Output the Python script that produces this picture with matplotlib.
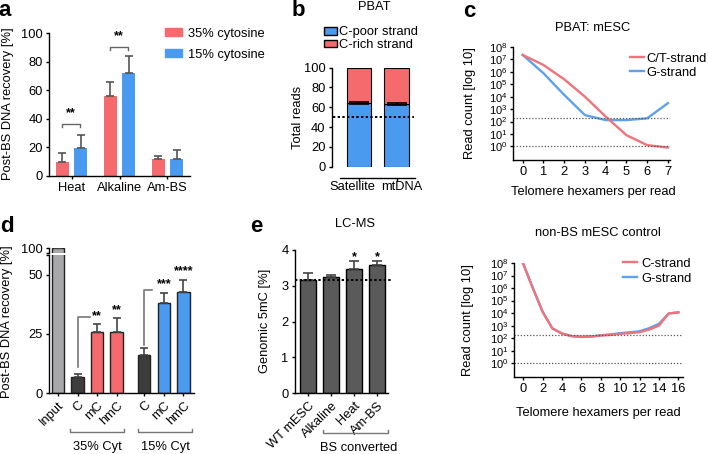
import numpy as np
import matplotlib
matplotlib.use('Agg')
import matplotlib.pyplot as plt
import matplotlib.transforms as mtransforms
from matplotlib.patches import Patch
from matplotlib.ticker import NullLocator

plt.rcParams['font.family'] = ['Liberation Sans', 'DejaVu Sans']
plt.rcParams['font.size'] = 9.3
plt.rcParams['axes.linewidth'] = 1.0
plt.rcParams['xtick.major.size'] = 2.5
plt.rcParams['ytick.major.size'] = 2.5
plt.rcParams['xtick.major.width'] = 1.0
plt.rcParams['ytick.major.width'] = 1.0
plt.rcParams['xtick.major.pad'] = 2
plt.rcParams['ytick.major.pad'] = 2
plt.rcParams['mathtext.default'] = 'regular'

RED = '#F56A6D'
BLUE = '#4A9AF0'

# %% Data
# a: post-BS recovery by conversion method
a_methods = ['Heat', 'Alkaline', 'Am-BS']
a_35 = [9.5, 56, 12]
a_35_err = [6.5, 10, 2]
a_15 = [19.5, 72, 12]
a_15_err = [9.5, 12, 6]

# b: PBAT strand fractions
b_samples = ['Satellite', 'mtDNA']
b_cpoor = [64, 63]
b_cpoor_err = [1.0, 1.0]

# c: telomere hexamer read counts, PBAT
c_hex = np.arange(8)
c_ct = [2.3e7, 3.6e6, 2.5e5, 1e4, 2.5e2, 8, 1.25, 0.8]
c_g = [2.3e7, 7.8e5, 1.4e4, 3.3e2, 1.3e2, 1.3e2, 1.8e2, 3e3]
c_noise = [180, 1]

# c (lower): non-BS control
cn_hex = np.arange(17)
cn_c = [8.3e7, 9.3e5, 1.26e4, 600, 234, 145, 126, 135, 162, 182, 224, 251,
        302, 490, 1000, 9300, 11200]
cn_g = [8.3e7, 9.3e5, 1.26e4, 600, 234, 145, 126, 135, 170, 200, 250, 295,
        355, 630, 1400, 9300, 11700]

# d: recovery by cytosine modification
d_labels = ['Input', 'C', 'mC', 'hmC', 'C', 'mC', 'hmC']
d_vals = [100, 7.0, 26.0, 26.0, 16.2, 37.9, 42.6]
d_err = [0, 1.0, 3.1, 5.6, 2.8, 4.3, 5.2]
d_stars = ['', '', '**', '**', '', '***', '****']

# e: LC-MS genomic 5mC
e_labels = ['WT mESC', 'Alkaline', 'Heat', 'Am-BS']
e_vals = [3.15, 3.25, 3.47, 3.58]
e_err = [0.2, 0.06, 0.22, 0.1]
e_stars = ['', '', '*', '*']

# %% Helpers
W, H = 708, 454
fig = plt.figure(figsize=(W / 100, H / 100), dpi=100)


def px_axes(left, top, right, bottom):
    ax = fig.add_axes([left / W, 1 - bottom / H, (right - left) / W, (bottom - top) / H])
    ax.spines['top'].set_visible(False)
    ax.spines['right'].set_visible(False)
    return ax


def ftext(x, y, s, **kw):
    kw.setdefault('ha', 'center')
    kw.setdefault('va', 'center')
    fig.text(x / W, 1 - y / H, s, **kw)


def fpt(x, y):
    return (x / W, 1 - y / H)


# %% Panel a
axa = px_axes(49, 33, 190, 176)
xa = np.arange(len(a_methods))
ekw = dict(ecolor='#555555', capsize=3, elinewidth=1.2, capthick=1.2)
axa.bar(xa - 0.19, a_35, 0.27, color=RED, yerr=[np.zeros(3), a_35_err], error_kw=ekw)
axa.bar(xa + 0.19, a_15, 0.27, color=BLUE, yerr=[np.zeros(3), a_15_err], error_kw=ekw)
axa.set_xlim(-0.47, 2.47)
axa.set_ylim(0, 100)
axa.set_yticks(range(0, 101, 20))
axa.set_xticks(xa, a_methods)
for xc, yb, ys in [(0, 36.2, 43.8), (1, 90.4, 97.9)]:
    axa.plot([xc - 0.2, xc - 0.2, xc + 0.17, xc + 0.17], [yb - 2.2, yb, yb, yb - 2.2],
             color='#666666', lw=1, clip_on=False)
    axa.text(xc - 0.01, ys, '**', ha='center', va='center', fontsize=9, fontweight='bold')
axa.legend(handles=[Patch(color=RED), Patch(color=BLUE)],
           labels=['35% cytosine', '15% cytosine'], loc='upper left',
           bbox_to_anchor=fpt(165, 27.5), bbox_transform=fig.transFigure,
           frameon=False, borderpad=0, borderaxespad=0, handlelength=1.3,
           handleheight=0.67, handletextpad=0.47, labelspacing=0.7)
ftext(8, 104, 'Post-BS DNA recovery [%]', rotation=90)
ftext(5, 11, 'a', fontsize=16, fontweight='bold')

# %% Panel b
axb = px_axes(340, 67.5, 415, 166.7)
xb = np.arange(len(b_samples))
b_crich = [100 - v for v in b_cpoor]
axb.bar(xb, b_cpoor, 0.65, color=BLUE, edgecolor='black', lw=0.8)
axb.bar(xb, b_crich, 0.65, bottom=b_cpoor, color=RED, edgecolor='black', lw=0.8)
axb.errorbar(xb, b_cpoor, yerr=b_cpoor_err, fmt='none', ecolor='black',
             capsize=7, elinewidth=1.2, capthick=1.2)
axb.plot([-0.69, 1.46], [50, 50], ls=(0, (1.2, 1.2)), color='black', lw=1.4, clip_on=False)
axb.set_xlim(-0.51, 1.49)
axb.set_ylim(0, 100)
axb.set_yticks(range(0, 101, 20))
# tick marks at bar centres, labels nudged apart as in the original
axb.set_xticks(xb, ['', ''])
axb.set_xticks(xb + np.array([-0.19, 0.13]), b_samples, minor=True)
axb.tick_params(axis='x', which='minor', length=0, pad=2.2)
axb.spines['left'].set_position(('outward', 6))
axb.spines['bottom'].set_position(('outward', 8.4))
axb.legend(handles=[Patch(facecolor=BLUE, edgecolor='black'), Patch(facecolor=RED, edgecolor='black')],
           labels=['C-poor strand', 'C-rich strand'], loc='upper left',
           bbox_to_anchor=fpt(324, 26.5), bbox_transform=fig.transFigure,
           frameon=False, borderpad=0, borderaxespad=0, handlelength=1.0,
           handleheight=0.55, handletextpad=0.18, labelspacing=0.05)
ftext(298, 117, 'Total reads', rotation=90)
ftext(374, 7.5, 'PBAT')
ftext(298, 10, 'b', fontsize=16, fontweight='bold')


# %% Panel c
def log_axes(ax, xs, red, blue, red_lab, blue_lab):
    ax.plot(xs, blue, color='#5FA0EC', lw=1.7, label=blue_lab)
    ax.plot(xs, red, color='#F0737A', lw=1.7, label=red_lab)
    ax.set_yscale('log')
    ax.set_ylim(10 ** -1.1, 1e8)
    ax.set_yticks([10.0 ** k for k in range(9)])
    ax.yaxis.set_minor_locator(NullLocator())
    ax.tick_params(axis='y', labelsize=8.0, pad=1.5)
    for v in c_noise:
        ax.axhline(v, ls=(0, (1, 1.5)), color='#555555', lw=0.9)


axc = px_axes(512.7, 47, 670, 160)
log_axes(axc, c_hex, c_ct, c_g, 'C/T-strand', 'G-strand')
axc.set_xlim(-0.48, 7.1)
axc.set_xticks(c_hex)
h, l = axc.get_legend_handles_labels()
axc.legend(h[::-1], l[::-1], loc='upper left', bbox_to_anchor=fpt(630, 52.5),
           bbox_transform=fig.transFigure, frameon=False, borderpad=0,
           borderaxespad=0, handlelength=1.08, handletextpad=0.2, labelspacing=0.15)
ftext(470, 103, 'Read count [log 10]', rotation=90)
ftext(593, 192, 'Telomere hexamers per read')
ftext(593, 28, 'PBAT: mESC')
ftext(469, 11.5, 'c', fontsize=16, fontweight='bold')

axn = px_axes(514, 263, 682.7, 377)
log_axes(axn, cn_hex, cn_c, cn_g, 'C-strand', 'G-strand')
axn.set_xlim(-0.96, 16.45)
axn.set_xticks(range(0, 17, 2))
h, l = axn.get_legend_handles_labels()
axn.legend(h[::-1], l[::-1], loc='upper left', bbox_to_anchor=fpt(623, 257.5),
           bbox_transform=fig.transFigure, frameon=False, borderpad=0,
           borderaxespad=0, handlelength=1.08, handletextpad=0.36, labelspacing=0.25)
ftext(468, 320, 'Read count [log 10]', rotation=90)
ftext(598, 412.7, 'Telomere hexamers per read')
ftext(598, 233, 'non-BS mESC control')

# %% Panel d (broken axis)
d_pos = np.array([0, 1, 2, 3, 4.4, 5.4, 6.4])
d_colors = ['#A8A8AA', '#3D3D3D', RED, RED, '#3D3D3D', BLUE, BLUE]
d_top_lim = (393.3 - 255) / 2.372

axdt = px_axes(49.3, 248.3, 194, 252.5)
axd = px_axes(49.3, 255, 194, 393.3)
for ax in (axdt, axd):
    ax.bar(d_pos, d_vals, 0.64, color=d_colors, edgecolor='#222222', lw=1,
           yerr=[np.zeros(len(d_vals)), d_err],
           error_kw=dict(ecolor='#444444', capsize=3, elinewidth=1.2, capthick=1.2))
    ax.set_xlim(-0.44, 6.94)
axdt.set_ylim(97.5, 100)
axdt.set_yticks([97.5, 100], ['', '100'])
axdt.spines['bottom'].set_visible(False)
axdt.set_xticks([])
axd.set_ylim(0, d_top_lim)
axd.set_yticks([0, 25, 50, d_top_lim], ['0', '25', '50', ''])
axd.set_xticks(d_pos, d_labels, rotation=45, ha='right', rotation_mode='anchor')
for xp, yv, e, s in zip(d_pos, d_vals, d_err, d_stars):
    if s:
        axd.text(xp, yv + e + 3.6, s, ha='center', va='center', fontsize=9, fontweight='bold')
for x0, y0, y1, x1 in [(1, 11.2, 32, 1.63), (4.4, 20.4, 43.5, 4.78)]:
    axd.plot([x0, x0, x1], [y0, y1, y1], color='#777777', lw=1.2, clip_on=False)
trd = mtransforms.blended_transform_factory(axd.transData, axd.transAxes)
for x0, x1, lab in [(0.61, 3.37, '35% Cyt'), (4.08, 6.85, '15% Cyt')]:
    axd.plot([x0, x0, x1, x1], [-0.255, -0.278, -0.278, -0.255], color='#777777',
             lw=1, transform=trd, clip_on=False)
    axd.text((x0 + x1) / 2, -0.39, lab, transform=trd, ha='center', va='center')
ftext(7, 322, 'Post-BS DNA recovery [%]', rotation=90)
ftext(7, 227, 'd', fontsize=16, fontweight='bold')

# %% Panel e
axe = px_axes(295, 250, 388.3, 393.3)
xe = np.arange(len(e_labels))
axe.bar(xe, e_vals, 0.7, color='#5A5A5A', edgecolor='black', lw=1,
        yerr=[np.zeros(len(e_vals)), e_err],
        error_kw=dict(ecolor='#444444', capsize=3.5, elinewidth=1.2, capthick=1.2))
axe.plot([-0.58, 3.6], [e_vals[0], e_vals[0]], ls=(0, (1.2, 1.2)), color='black',
         lw=1.4, clip_on=False)
for xp, yv, e, s in zip(xe, e_vals, e_err, e_stars):
    if s:
        axe.text(xp, yv + e + 0.12, s, ha='center', va='center', fontsize=9, fontweight='bold')
axe.set_xlim(-0.58, 3.49)
axe.set_ylim(0, 4)
axe.set_yticks(range(5))
axe.set_xticks(xe, e_labels, rotation=45, ha='right', rotation_mode='anchor')
tre = mtransforms.blended_transform_factory(axe.transData, axe.transAxes)
axe.plot([0.63, 0.63, 3.49, 3.49], [-0.255, -0.277, -0.277, -0.255], color='#777777',
         lw=1, transform=tre, clip_on=False)
axe.text(2.2, -0.38, 'BS converted', transform=tre, ha='center', va='center')
ftext(265, 321, 'Genomic 5mC [%]', rotation=90)
ftext(355, 224, 'LC-MS')
ftext(256, 227, 'e', fontsize=16, fontweight='bold')

fig.savefig('out.png', dpi=100)
